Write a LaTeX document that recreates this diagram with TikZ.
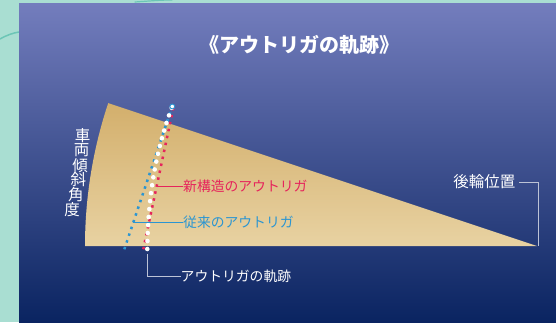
\documentclass[tikz,border=0pt]{standalone}
\usepackage{fontspec}
\usepackage{tikz}
\usetikzlibrary{positioning}
\newfontfamily\jpfont{Noto Sans CJK JP}
\definecolor{tealbg}{HTML}{A9DED2}
\definecolor{tealswirl}{HTML}{6CC6B6}
\definecolor{paneltop}{HTML}{737DBD}
\definecolor{panelmid}{HTML}{34488D}
\definecolor{panelbot}{HTML}{0A2461}
\definecolor{fantop}{HTML}{D3AF6C}
\definecolor{fanbot}{HTML}{E8D2A2}
\definecolor{newred}{HTML}{E6245C}
\definecolor{oldblue}{HTML}{2A95D2}
\definecolor{leadgray}{HTML}{BCC3D6}
\tikzset{
  lbl/.style={font=\jpfont\fontsize{13.8}{14}\selectfont, inner sep=0pt, anchor=west},
  dots/.style={line width=2.5pt, dash pattern=on 2.5pt off 4.6pt},
  lead/.style={line width=0.8pt}
}

\begin{document}
\begin{tikzpicture}[x=1pt,y=1pt]
                    \useasboundingbox (0,0) rectangle (556,322);
                    \fill[tealbg] (0,0) rectangle (556,322);
                    \draw[tealswirl, line width=1.5pt, line cap=round] (0,283) .. controls (7,287) and (13,289) .. (19,290);
                    \draw[tealswirl, line width=1.2pt, line cap=round] (135,320) .. controls (150,321) and (160,322) .. (172,322);
                    \shade[top color=paneltop, middle color=panelmid, bottom color=panelbot] (19,0) rectangle (556,318);

                    \shade[top color=fantop, bottom color=fanbot] (537,76) -- (85,76) arc[start angle=180, end angle=161.57, radius=452pt] -- cycle;

                    \node[font=\jpfont\bfseries\fontsize{20}{20}\selectfont, text=white, inner sep=0pt] (title) at (299,277) {《アウトリガの軌跡》};

                    \foreach \ch/\px/\py in {車/82.7/186.3, 両/81.5/171.5, 傾/80/156.7, 斜/78.3/142, 角/75.8/127, 度/72/112}
                      \node[font=\jpfont\fontsize{15.5}{15}\selectfont, text=white, inner sep=0pt] (tilt\ch) at (\px,\py) {\ch};

                    \draw[oldblue, dots] (124.3,72.7) -- (172,215);
                    \draw[newred, dots] (143.3,72.7) -- (173.3,214);
                    \draw[white, line width=4.6pt, line cap=round, dash pattern=on 0pt off 8pt] (147.3,73) .. controls (148,127) and (156,172) .. (172,215);
                    \draw[oldblue, fill=white, line width=0.9pt] (172.3,215.5) circle (2.4pt);

                    \coordinate (redpt) at (157,136);
                    \coordinate (bluept) at (133,99.3);
                    \coordinate (whitept) at (147.3,68);
                    \coordinate (wheelpt) at (538,76);

                    \node[lbl, text=newred] (newlbl) at (183,136) {新構造のアウトリガ};
                    \node[lbl, text=oldblue] (oldlbl) at (183,99.3) {従来のアウトリガ};
                    \node[lbl, text=white] (pathlbl) at (180.5,45.3) {アウトリガの軌跡};
                    \node[font=\jpfont\fontsize{15.5}{15}\selectfont, text=white, inner sep=0pt, anchor=east] (wheellbl) at (515.5,140) {後輪位置};

                    \draw[lead, newred] (redpt) -- (newlbl.west);
                    \draw[lead, oldblue] (bluept) -- (oldlbl.west);
                    \draw[lead, leadgray] (whitept) |- (pathlbl.west);
                    \draw[lead, leadgray] (wheellbl.east) ++(3.5,0) -| (wheelpt);

                  \end{tikzpicture}
\end{document}
